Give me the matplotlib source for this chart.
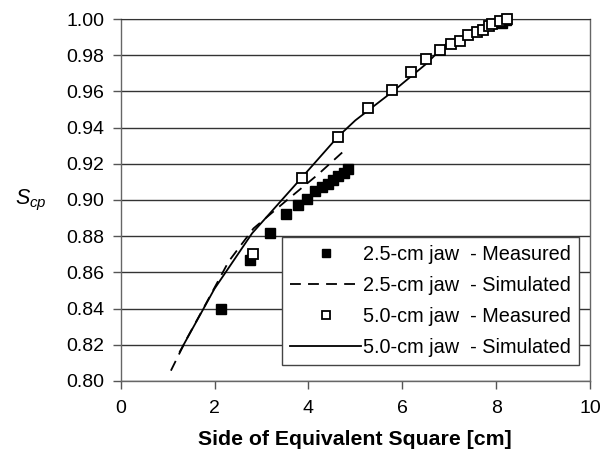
import matplotlib
matplotlib.use("Agg")
import matplotlib.pyplot as plt

plt.rcParams["font.family"] = ["Liberation Sans", "DejaVu Sans"]
plt.rcParams["mathtext.fontset"] = "custom"
plt.rcParams["mathtext.it"] = "Liberation Sans:italic"
plt.rcParams["mathtext.rm"] = "Liberation Sans"

# 2.5-cm jaw, measured
meas25_x = [2.13, 2.75, 3.19, 3.52, 3.78, 3.96, 4.13, 4.28, 4.42, 4.52, 4.63, 4.75, 4.84, 8.12, 8.22]
meas25_y = [0.840, 0.867, 0.882, 0.892, 0.897, 0.9005, 0.905, 0.907, 0.909, 0.911, 0.913, 0.915, 0.917, 0.998, 0.9995]

# 2.5-cm jaw, simulated
sim25_x = [1.07, 1.40, 1.76, 2.30, 2.83, 3.50, 4.20, 4.82]
sim25_y = [0.8057, 0.823, 0.840, 0.866, 0.8843, 0.899, 0.914, 0.9286]

# 5.0-cm jaw, measured
meas50_x = [2.82, 3.87, 4.64, 5.27, 5.79, 6.18, 6.51, 6.81, 7.03, 7.23, 7.41, 7.59, 7.73, 7.84, 7.91, 8.09, 8.23]
meas50_y = [0.870, 0.912, 0.935, 0.951, 0.961, 0.971, 0.978, 0.983, 0.986, 0.988, 0.991, 0.993, 0.994, 0.996, 0.997, 0.999, 1.000]

# 5.0-cm jaw, simulated
sim50_x = [1.26, 2.00, 2.80, 3.88, 4.63, 5.00, 5.80, 6.50, 6.95, 7.50, 8.09, 8.25]
sim50_y = [0.8162, 0.851, 0.8816, 0.913, 0.935, 0.944, 0.960, 0.975, 0.9866, 0.992, 0.9995, 1.000]

fig = plt.figure(figsize=(6.04, 4.53), dpi=100)
ax = fig.add_axes([0.1998, 0.159, 0.777, 0.799])

ax.plot(meas25_x, meas25_y, "s", color="black", markersize=7.5, linestyle="none",
        label="2.5-cm jaw  - Measured", zorder=4, clip_on=False)
ax.plot(sim25_x, sim25_y, color="black", linestyle=(0, (6, 4)), linewidth=1.3,
        label="2.5-cm jaw  - Simulated", zorder=3)
ax.plot(meas50_x, meas50_y, "s", markerfacecolor="white", markeredgecolor="black",
        markeredgewidth=1.3, markersize=7.5, linestyle="none",
        label="5.0-cm jaw  - Measured", zorder=5, clip_on=False)
ax.plot(sim50_x, sim50_y, color="black", linewidth=1.3,
        label="5.0-cm jaw  - Simulated", zorder=3)

ax.set_xlim(0, 10)
ax.set_ylim(0.80, 1.00)
ax.set_xticks(range(0, 11, 2))
ax.set_yticks([0.80 + 0.02 * i for i in range(11)])
ax.set_yticklabels([f"{0.80 + 0.02 * i:.2f}" for i in range(11)])
ax.yaxis.grid(True, color="#333333", linewidth=1.0)
ax.set_axisbelow(True)
ax.tick_params(axis="both", direction="out", length=6, width=1, labelsize=14,
               color="#555555")
ax.tick_params(axis="x", pad=8)
ax.tick_params(axis="y", pad=6)

for side in ["left", "right", "bottom"]:
    ax.spines[side].set_color("#666666")
    ax.spines[side].set_linewidth(1.0)
ax.spines["top"].set_color("#333333")

ax.set_xlabel("Side of Equivalent Square [cm]", fontsize=15.3, fontweight="bold", labelpad=9)
fig.text(0.025, 1 - 200 / 453, "$S_{cp}$", fontsize=15.5, va="center", ha="left")

leg = ax.legend(loc="lower right", bbox_to_anchor=(0.977, 0.044), borderaxespad=0,
                fontsize=14.3, handlelength=3.6, handletextpad=0.1, frameon=True,
                fancybox=False, edgecolor="#444444", framealpha=1, borderpad=0.4,
                labelspacing=0.6, markerscale=0.75)
leg.get_frame().set_linewidth(1.0)

fig.savefig("out.png", dpi=100)
